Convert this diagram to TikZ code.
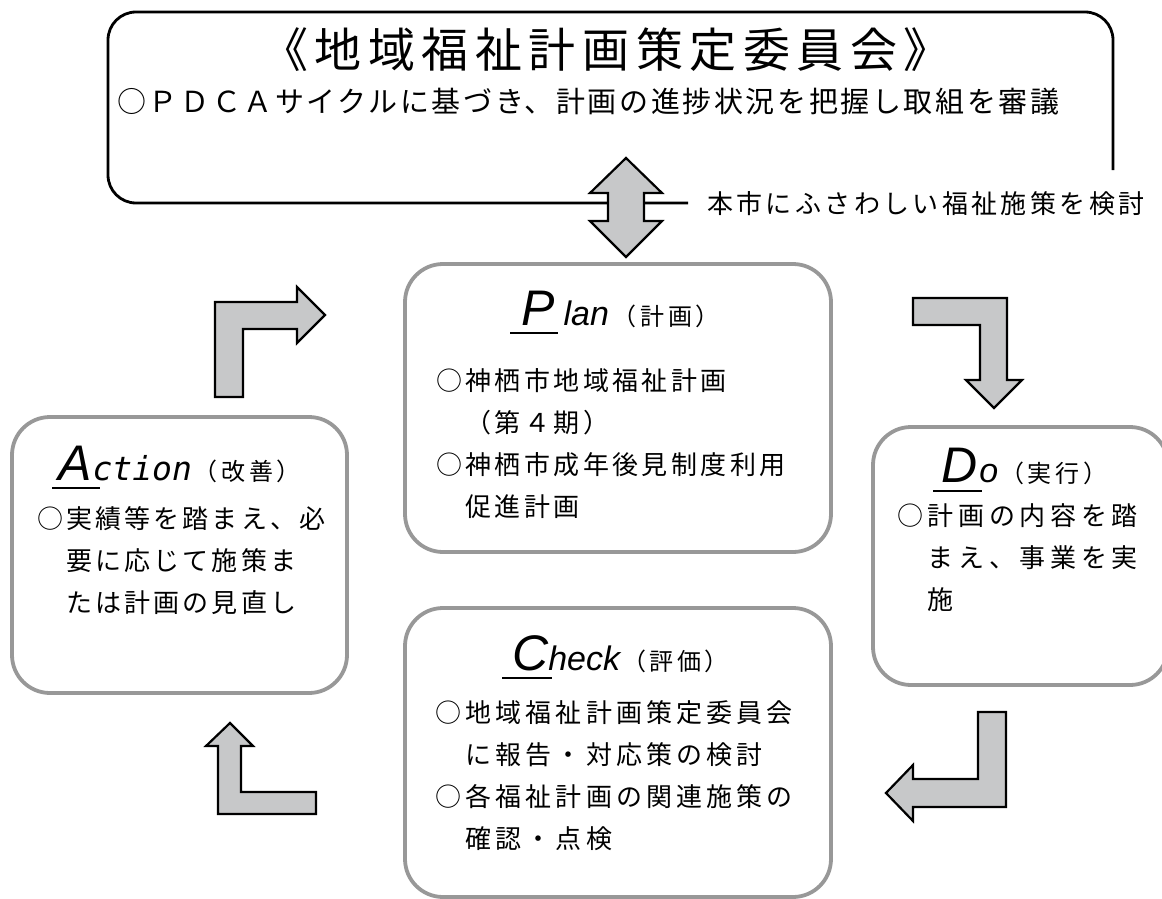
\documentclass[tikz,border=0pt]{standalone}
\usepackage{fontspec}
\setmainfont{Noto Sans CJK JP}
\newfontfamily\bodyjp{Noto Sans CJK JP}
\newfontfamily\latinit{Liberation Sans}
\newfontfamily\monoit{DejaVu Sans Mono}

\definecolor{framegray}{RGB}{152,152,152}
\definecolor{arrowgray}{RGB}{199,200,201}

\newcommand{\initial}[1]{{\latinit\itshape\fontsize{50}{50}\selectfont #1}}
\newcommand{\tailit}[1]{{\latinit\itshape\fontsize{34}{34}\selectfont #1}}
\newcommand{\tailmono}[1]{{\monoit\itshape\fontsize{33}{33}\selectfont #1}}
\newcommand{\jpnote}[1]{{\bodyjp\addfontfeature{LetterSpace=15}\fontsize{24}{24}\selectfont #1}}
\newcommand{\spaced}[2]{{\bodyjp\addfontfeature{LetterSpace=#1}#2}}
\newcommand{\phaselines}[2][13]{{\bodyjp\addfontfeature{LetterSpace=#1}\fontsize{26}{42}\selectfont
    \begin{tabular}[t]{@{}l@{}}#2\end{tabular}}}

\tikzset{
    phasebox/.style={draw=framegray, line width=3.8, rounded corners=38, inner sep=0},
    turnarrow/.style={draw=black, line width=2.2, fill=arrowgray, line join=miter},
    underbar/.style={line width=2.6},
    plain/.style={inner sep=0, anchor=base west},
}

\begin{document}
\begin{tikzpicture}[x=1pt,y=-1pt]
        \useasboundingbox (0,0) rectangle (1162,899);

        % committee
        \draw[line width=2.8, rounded corners=28]
            (1113,170) -- (1113,12) -- (108,12) -- (108,203) -- (688,203);
        \node[inner sep=0, anchor=base] (committee) at (606,68)
            {\spaced{14}{\fontsize{47}{47}\selectfont 《地域福祉計画策定委員会》}};
        \node[plain] (review) at (117,112)
            {\spaced{9}{\fontsize{29}{29}\selectfont ○ＰＤＣＡサイクルに基づき、計画の進捗状況を把握し取組を審議}};
        \node[plain] (policy) at (707,213)
            {\spaced{13}{\fontsize{26}{26}\selectfont 本市にふさわしい福祉施策を検討}};

        \draw[turnarrow] (626,158) -- (662,193) -- (644,193) -- (644,221) -- (662,221)
            -- (626,257) -- (590,221) -- (608,221) -- (608,193) -- (590,193) -- cycle;

        % PDCA boxes
        \node[phasebox, minimum width=426, minimum height=288] (plan) at (618,408) {};
        \node[phasebox, minimum width=335, minimum height=276] (action) at (179.5,555) {};
        \node[phasebox, minimum width=295, minimum height=258] (do) at (1020.5,556) {};
        \node[phasebox, minimum width=426, minimum height=289] (check) at (618,752.5) {};

        \node[plain] (planhead) at (521,325)
            {\initial{P}\hspace{9pt}\tailit{lan}\hspace{4pt}\jpnote{（計画）}};
        \draw[underbar] (510,333) -- (558,333);
        \node[plain] (plantext) at (436,390)
            {\phaselines{○神栖市地域福祉計画\\　（第４期）\\○神栖市成年後見制度利用\\　促進計画}};

        \node[plain] (actionhead) at (58,480)
            {\initial{A}\hspace{1pt}\tailmono{ction}\hspace{2pt}\jpnote{（改善）}};
        \draw[underbar] (52,488) -- (100,488);
        \node[plain] (actiontext) at (37,528)
            {\phaselines[12]{○実績等を踏まえ、必\\　要に応じて施策ま\\　たは計画の見直し}};

        \node[plain] (dohead) at (941,482)
            {\initial{D}\hspace{2pt}\tailit{o}\hspace{2pt}\jpnote{（実行）}};
        \draw[underbar] (933,491) -- (982,491);
        \node[plain] (dotext) at (897,525)
            {\phaselines[18]{○計画の内容を踏\\　まえ、事業を実\\　施}};

        \node[plain] (checkhead) at (512,670)
            {\initial{C}\tailit{heck}\hspace{2pt}\jpnote{（評価）}};
        \draw[underbar] (502,678) -- (552,678);
        \node[plain] (checktext) at (435,722)
            {\phaselines[16]{○地域福祉計画策定委員会\\　に報告・対応策の検討\\○各福祉計画の関連施策の\\　確認・点検}};

        % cycle arrows
        \draw[turnarrow] (215,397) -- (215,302) -- (297,302) -- (297,287) -- (325,315)
            -- (297,343) -- (297,329) -- (243,329) -- (243,397) -- cycle;
        \draw[turnarrow] (913,298) -- (1007,298) -- (1007,380) -- (1022,380) -- (994,408)
            -- (966,380) -- (980,380) -- (980,325) -- (913,325) -- cycle;
        \draw[turnarrow] (978,712) -- (1006,712) -- (1006,807) -- (913,807) -- (913,821)
            -- (886,793) -- (913,765) -- (913,779) -- (978,779) -- cycle;
        \draw[turnarrow] (218,814) -- (218,746) -- (206,746) -- (230,723) -- (253,746)
            -- (241,746) -- (241,792) -- (316,792) -- (316,814) -- cycle;

    \end{tikzpicture}
\end{document}
